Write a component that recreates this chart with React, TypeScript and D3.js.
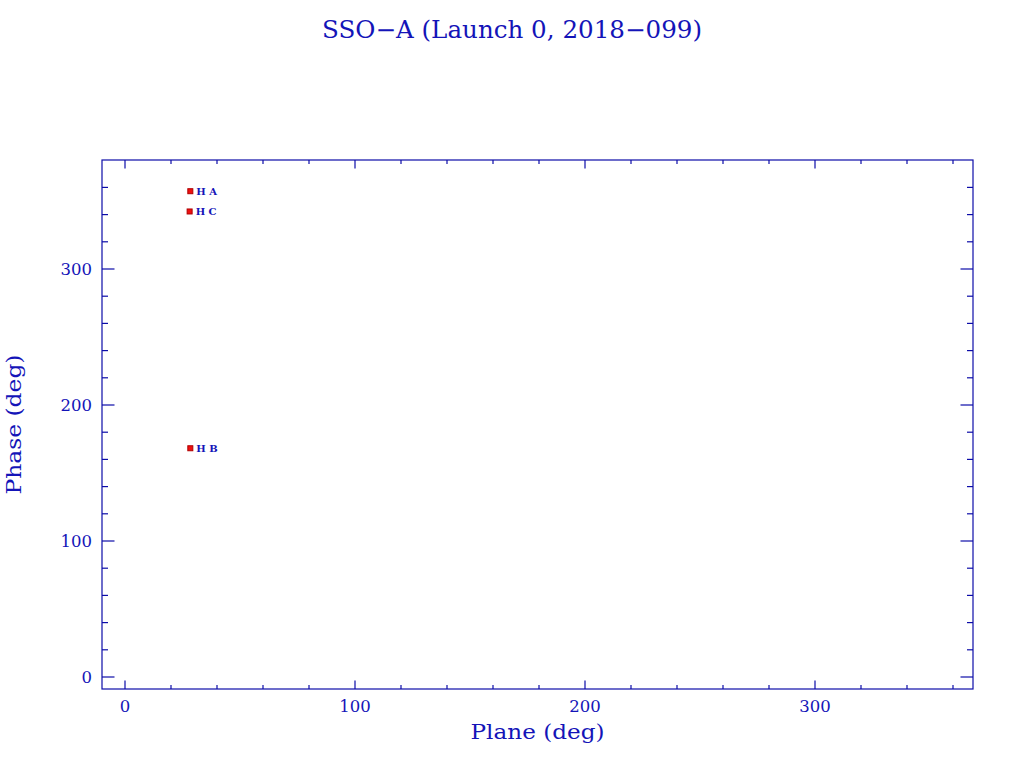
import React from "react";
import * as d3 from "d3";

const title = "SSO\u2212A (Launch 0, 2018\u2212099)";
const xLabel = "Plane (deg)";
const yLabel = "Phase (deg)";
const pointLabels = ["H A", "H C", "H B"];
const planes = [28.4, 28.1, 28.4];
const phases = [357.2, 342.3, 168.2];
const majorTicks = [0, 100, 200, 300];

const W = 1024;
const H = 768;
const L = 102, R = 973, T = 160, B = 689;
const frameColor = "#0c0ca8";
const textColor = "#1414b8";
const font = "'DejaVu Serif', 'Liberation Serif', serif";

export default function App() {
  const x = d3.scaleLinear().domain([-10, (R - 125) / 2.3]).range([L, R]);
  const y = d3.scaleLinear().domain([-(B - 677) / 1.36, (677 - T) / 1.36]).range([B, T]);
  const xMinor = d3.range(0, 370, 20).filter((v) => x(v) > L + 1 && x(v) < R - 1);
  const yMinor = d3.range(0, 400, 20).filter((v) => y(v) < B - 1 && y(v) > T + 1);
  const isMajor = (v: number) => v % 100 === 0;
  const xMaj = 8.5, xMin = 4, yMaj = 12.5, yMin = 6;
  return (
    <svg
      width={W}
      height={H}
      style={{ position: "absolute", left: 0, top: 0, background: "#fff" }}
    >
      <rect x={0} y={0} width={W} height={H} fill="#fff" />
      <text x={512} y={38} textAnchor="middle" fontFamily={font} fontSize={24} fill={textColor}
        textLength={380} lengthAdjust="spacingAndGlyphs">
        {title}
      </text>
      <rect x={L} y={T} width={R - L} height={B - T} fill="none" stroke={frameColor} strokeWidth={1.2} />
      {xMinor.map((v) => {
        const len = isMajor(v) ? xMaj : xMin;
        return (
          <g key={"x" + v}>
            <line x1={x(v)} x2={x(v)} y1={B} y2={B - len} stroke={frameColor} strokeWidth={1.2} />
            <line x1={x(v)} x2={x(v)} y1={T} y2={T + len} stroke={frameColor} strokeWidth={1.2} />
          </g>
        );
      })}
      {yMinor.map((v) => {
        const len = isMajor(v) ? yMaj : yMin;
        return (
          <g key={"y" + v}>
            <line x1={L} x2={L + len} y1={y(v)} y2={y(v)} stroke={frameColor} strokeWidth={1.2} />
            <line x1={R} x2={R - len} y1={y(v)} y2={y(v)} stroke={frameColor} strokeWidth={1.2} />
          </g>
        );
      })}
      {majorTicks.map((v) => (
        <text key={"xl" + v} x={x(v)} y={712} textAnchor="middle" fontFamily={font} fontSize={16.5} fill={textColor}>
          {v}
        </text>
      ))}
      {majorTicks.map((v) => (
        <text key={"yl" + v} x={92} y={y(v) + 6} textAnchor="end" fontFamily={font} fontSize={16.5} fill={textColor}>
          {v}
        </text>
      ))}
      <text x={(L + R) / 2} y={739} textAnchor="middle" fontFamily={font} fontSize={21} fill={textColor}
        textLength={134} lengthAdjust="spacingAndGlyphs">
        {xLabel}
      </text>
      <text
        transform={`translate(21,${(T + B) / 2}) rotate(-90)`}
        textAnchor="middle"
        fontFamily={font}
        fontSize={21}
        fill={textColor}
        textLength={140}
        lengthAdjust="spacingAndGlyphs"
      >
        {yLabel}
      </text>
      {planes.map((p, i) => (
        <g key={"p" + i}>
          <rect x={x(p) - 2.5} y={y(phases[i]) - 2.5} width={5} height={5} fill="#ee1010" stroke="#b00000" strokeWidth={1} />
          <text x={x(p) + 6} y={y(phases[i]) + 3.5} fontFamily={font} fontSize={10} fontWeight="bold" fill={textColor}>
            {pointLabels[i]}
          </text>
        </g>
      ))}
    </svg>
  );
}
